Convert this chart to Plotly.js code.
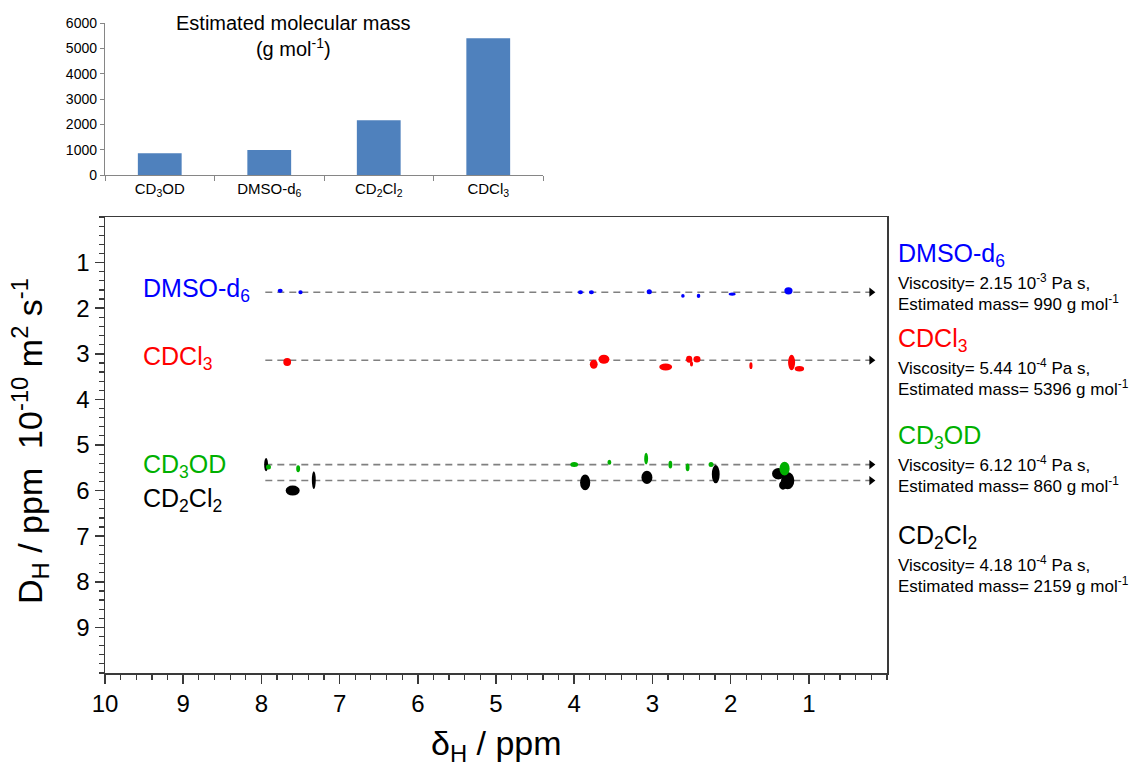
<!DOCTYPE html>
<html>
<head>
<meta charset="utf-8">
<script src="https://cdn.plot.ly/plotly-3.0.1.min.js"></script>
<style>html,body{margin:0;padding:0;background:#fff;}#chart{width:1135px;height:769px;}</style>
</head>
<body>
<div id="chart"></div>
<script>
// ---------- DATA ----------
// Inset bar chart
const inset_categories = ['CD3OD', 'DMSO-d6', 'CD2Cl2', 'CDCl3'];
const inset_tick_labels = ['CD<sub>3</sub>OD', 'DMSO-d<sub>6</sub>', 'CD<sub>2</sub>Cl<sub>2</sub>', 'CDCl<sub>3</sub>'];
const estimated_mass = [860, 990, 2159, 5396];
const inset_y_ticks = [0, 1000, 2000, 3000, 4000, 5000, 6000];

// DOSY cross peaks: chemical shift (ppm), diffusion (1e-10 m2/s), peak extent in ppm and in D units
const dmso_shift  = [7.76, 7.50, 3.92, 3.78, 3.04, 2.61, 2.41, 1.98, 1.26];
const dmso_D      = [1.62, 1.65, 1.65, 1.65, 1.64, 1.73, 1.73, 1.69, 1.62];
const dmso_w      = [0.064, 0.055, 0.064, 0.064, 0.066, 0.045, 0.045, 0.09, 0.105];
const dmso_h      = [0.09, 0.09, 0.09, 0.09, 0.11, 0.08, 0.09, 0.07, 0.16];

const cdcl3_shift = [7.67, 3.75, 3.62, 2.83, 2.53, 2.43, 2.50, 1.74, 1.22, 1.12];
const cdcl3_D     = [3.18, 3.23, 3.12, 3.29, 3.12, 3.12, 3.22, 3.26, 3.19, 3.33];
const cdcl3_w     = [0.10, 0.10, 0.14, 0.165, 0.08, 0.09, 0.04, 0.04, 0.09, 0.12];
const cdcl3_h     = [0.18, 0.20, 0.20, 0.15, 0.15, 0.14, 0.12, 0.15, 0.34, 0.12];

const cd2cl2_shift = [7.94, 7.60, 7.33, 3.86, 3.07, 2.19, 1.39, 1.27, 1.33];
const cd2cl2_D     = [5.43, 6.00, 5.77, 5.82, 5.71, 5.64, 5.63, 5.78, 5.88];
const cd2cl2_w     = [0.05, 0.18, 0.05, 0.13, 0.14, 0.10, 0.16, 0.17, 0.10];
const cd2cl2_h     = [0.29, 0.22, 0.39, 0.35, 0.29, 0.40, 0.25, 0.38, 0.20];

const cd3od_shift = [7.91, 7.53, 4.00, 3.55, 3.08, 2.77, 2.55, 2.25, 1.31];
const cd3od_D     = [5.48, 5.52, 5.43, 5.38, 5.30, 5.43, 5.49, 5.43, 5.52];
const cd3od_w     = [0.064, 0.05, 0.10, 0.05, 0.05, 0.05, 0.05, 0.064, 0.13];
const cd3od_h     = [0.11, 0.15, 0.11, 0.11, 0.26, 0.17, 0.17, 0.11, 0.30];

// Guide lines (average diffusion per solvent)
const guide_names = ['DMSO-d6', 'CDCl3', 'CD3OD', 'CD2Cl2'];
const guide_D     = [1.65, 3.14, 5.43, 5.78];
const guide_start = [7.95, 7.95, 7.95, 7.95];
const guide_end   = [0.2, 0.2, 0.2, 0.2];

// Axis ticks
const x_ticks = [1, 2, 3, 4, 5, 6, 7, 8, 9, 10];
const y_ticks = [1, 2, 3, 4, 5, 6, 7, 8, 9];

// Solvent info text
const solvent_labels = ['DMSO-d<sub>6</sub>', 'CDCl<sub>3</sub>', 'CD<sub>3</sub>OD', 'CD<sub>2</sub>Cl<sub>2</sub>'];
const solvent_colors = ['#0000FF', '#FF0000', '#00B000', '#000000'];
const viscosity_text = ['2.15 10<sup>-3</sup>', '5.44 10<sup>-4</sup>', '6.12 10<sup>-4</sup>', '4.18 10<sup>-4</sup>'];
const mass_text = ['990', '5396', '860', '2159'];

// ---------- LAYOUT HELPERS ----------
const L = 105, R = 887, T = 23, B = 673;
const W = R - L, H = B - T;
const px = x => (x - L) / W;
const py = y => (B - y) / H;
const FONT = 'Arial, "Liberation Sans", Helvetica, sans-serif';
const AX = '#3a3a3a';

const traces = [];
// guide lines
guide_D.forEach((d, i) => {
  traces.push({
    type: 'scatter', mode: 'lines', x: [guide_start[i], guide_end[i]], y: [d, d],
    xaxis: 'x', yaxis: 'y', line: {color: '#808080', width: 1.6, dash: '7px,5px'},
    hoverinfo: 'skip', showlegend: false, name: guide_names[i]
  });
});
traces.push({
  type: 'scatter', mode: 'markers', x: guide_end, y: guide_D, xaxis: 'x', yaxis: 'y',
  marker: {symbol: 'triangle-right', size: 8, color: '#000'}, hoverinfo: 'skip', showlegend: false
});
// inset bars
traces.push({
  type: 'bar', x: inset_categories, y: estimated_mass, xaxis: 'x2', yaxis: 'y2',
  marker: {color: '#4F81BD'}, showlegend: false, hoverinfo: 'x+y'
});

function blobs(shift, D, w, h, color) {
  return shift.map((s, i) => ({
    type: 'circle', xref: 'x', yref: 'y', layer: 'above',
    x0: s - w[i] / 2, x1: s + w[i] / 2, y0: D[i] - h[i] / 2, y1: D[i] + h[i] / 2,
    fillcolor: color, line: {width: 0}
  }));
}
const shapes = [].concat(
  blobs(dmso_shift, dmso_D, dmso_w, dmso_h, solvent_colors[0]),
  blobs(cdcl3_shift, cdcl3_D, cdcl3_w, cdcl3_h, solvent_colors[1]),
  blobs(cd2cl2_shift, cd2cl2_D, cd2cl2_w, cd2cl2_h, solvent_colors[3]),
  blobs(cd3od_shift, cd3od_D, cd3od_w, cd3od_h, solvent_colors[2])
);

const annotations = [];
function ann(text, x, y, size, color, extra) {
  annotations.push(Object.assign({
    text: text, xref: 'paper', yref: 'paper', x: px(x), y: py(y),
    xanchor: 'left', yanchor: 'middle', showarrow: false,
    font: {family: FONT, size: size, color: color}
  }, extra || {}));
}
// inset title
ann('Estimated molecular mass<br>(g mol<sup>-1</sup>)', 293, 36, 20, '#000', {xanchor: 'center', align: 'center'});
// left labels in plot
const left_y = [290, 358, 466, 500];
solvent_labels.forEach((t, i) => ann(t, 141, left_y[i], 25, solvent_colors[i]));
// right info
const right_title_y = [255, 340, 437, 537];
solvent_labels.forEach((t, i) => {
  ann(t, 896, right_title_y[i], 25, solvent_colors[i]);
  ann('Viscosity= ' + viscosity_text[i] + ' Pa s,', 896, right_title_y[i] + 27, 17, '#000');
  ann('Estimated mass= ' + mass_text[i] + ' g mol<sup>-1</sup>', 896, right_title_y[i] + 48, 17, '#000');
});
// axis titles
ann('δ<sub>H</sub> / ppm', 496, 745, 34, '#000', {xanchor: 'center'});
ann('D<sub>H</sub> / ppm&nbsp;&nbsp;10<sup>-10</sup> m<sup>2</sup> s<sup>-1</sup>', 30, 441, 34, '#000',
    {xanchor: 'center', textangle: -90});

const mainAxis = {
  showline: true, mirror: true, linecolor: AX, linewidth: 1.5,
  ticks: 'outside', ticklen: 9, tickwidth: 1.5, tickcolor: AX,
  tickmode: 'array', showgrid: false, zeroline: false,
  tickfont: {family: FONT, size: 24, color: '#000'},
  minor: {tickmode: 'linear', tick0: 0, dtick: 0.2, ticks: 'outside', ticklen: 5, tickwidth: 1.2, tickcolor: AX, showgrid: false}
};

const layout = {
  width: 1135, height: 769,
  margin: {l: L, r: 1135 - R, t: T, b: 769 - B},
  paper_bgcolor: '#fff', plot_bgcolor: 'rgba(0,0,0,0)',
  font: {family: FONT, color: '#000'},
  showlegend: false, bargap: 0.6,
  xaxis: Object.assign({}, mainAxis, {range: [10, 0], domain: [0, 1], anchor: 'y', tickvals: x_ticks}),
  yaxis: Object.assign({}, mainAxis, {range: [10, 0], domain: [0, py(217)], anchor: 'x', tickvals: y_ticks}),
  xaxis2: {
    type: 'category', domain: [0, px(543)], anchor: 'y2',
    showline: true, linecolor: '#868686', linewidth: 1.2,
    ticks: 'outside', tickson: 'boundaries', ticklen: 5, tickcolor: '#868686',
    tickmode: 'array', tickvals: inset_categories, ticktext: inset_tick_labels,
    tickfont: {family: FONT, size: 15, color: '#000'}, showgrid: false, zeroline: false
  },
  yaxis2: {
    domain: [py(175), 1], anchor: 'x2', range: [0, 6000],
    tickmode: 'array', tickvals: inset_y_ticks,
    showline: true, linecolor: '#868686', linewidth: 1.2,
    ticks: 'outside', ticklen: 4, tickcolor: '#868686',
    tickfont: {family: FONT, size: 14, color: '#000'}, showgrid: false, zeroline: false
  },
  shapes: shapes,
  annotations: annotations
};

Plotly.newPlot('chart', traces, layout, {staticPlot: true, displayModeBar: false});
</script>
</body>
</html>
